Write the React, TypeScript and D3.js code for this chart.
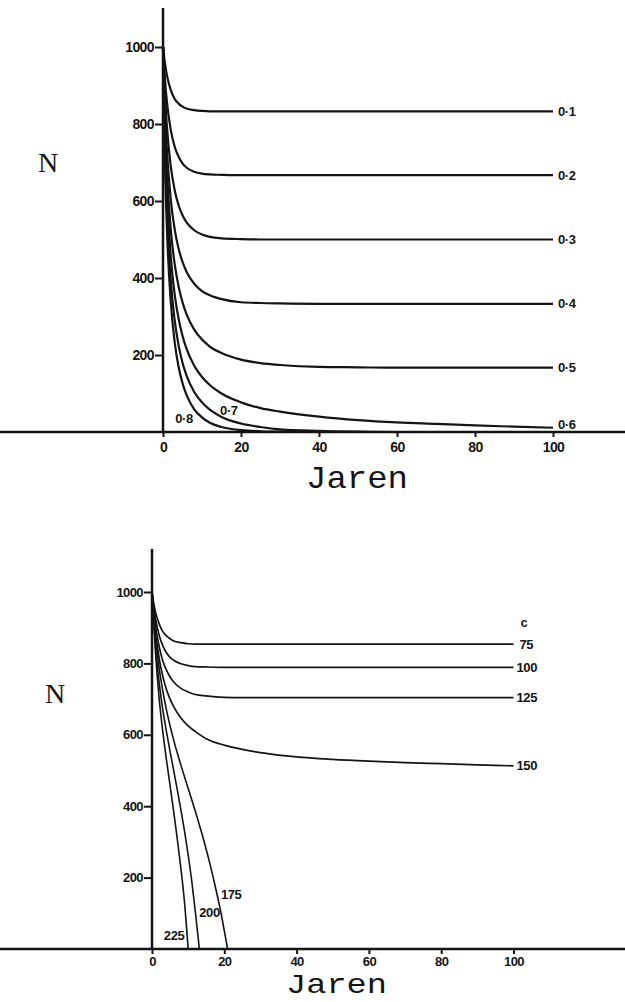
import { useEffect, useRef } from 'react'
import * as d3 from 'd3'

// time grid (Jaren) shared by the smooth curves
const tGrid = [0, 0.5, 1, 2, 3, 4, 5, 6, 8, 10, 12, 15, 20, 25, 30, 40, 50, 60, 70, 80, 90, 100]

// top chart: N per year for harvest fractions 0.1 .. 0.8
const h01 = [1000, 958, 927, 888, 865, 853, 845, 840, 836, 834, 833, 833, 833, 833, 833, 833, 833, 833, 833, 833, 833, 833]
const h02 = [1000, 917, 858, 784, 741, 715, 698, 687, 676, 671, 669, 668, 667, 667, 667, 667, 667, 667, 667, 667, 667, 667]
const h03 = [1000, 878, 794, 689, 628, 589, 563, 545, 524, 513, 507, 503, 501, 500, 500, 500, 500, 500, 500, 500, 500, 500]
const h04 = [1000, 840, 734, 603, 526, 476, 442, 417, 385, 366, 355, 345, 337, 335, 334, 333, 333, 333, 333, 333, 333, 333]
const h05 = [1000, 804, 678, 525, 436, 378, 337, 307, 266, 240, 222, 205, 188, 179, 174, 169, 168, 167, 167, 167, 167, 167]
const h06 = [1000, 769, 625, 455, 357, 294, 250, 217, 172, 143, 122, 100, 77, 62, 53, 40, 31, 25, 21, 17, 14, 11]
const h07 = [1000, 736, 576, 392, 290, 225, 180, 148, 104, 77, 58, 39, 22, 13, 7, 3, 1, 0, 0, 0, 0, 0]
const h08 = [1000, 704, 530, 337, 233, 169, 127, 97, 59, 38, 24, 13, 5, 2, 1, 0, 0, 0, 0, 0, 0, 0]
const topSeries = [h01, h02, h03, h04, h05, h06, h07, h08]
const topLabels = ['0·1', '0·2', '0·3', '0·4', '0·5', '0·6']

// bottom chart: constant catch c
const c75 = [1000, 967, 943, 910, 889, 877, 869, 863, 858, 855, 854, 854, 854, 854, 854, 854, 854, 854, 854, 854, 854, 854]
const c100 = [1000, 957, 924, 878, 849, 830, 817, 809, 799, 794, 791, 790, 789, 789, 789, 789, 789, 789, 789, 789, 789, 789]
const c125 = [1000, 946, 904, 846, 807, 781, 762, 748, 730, 720, 713, 709, 705, 704, 704, 704, 704, 704, 704, 704, 704, 704]
const c150 = [1000, 935, 885, 813, 763, 727, 700, 679, 647, 625, 609, 589, 571, 559, 550, 538, 531, 526, 522, 519, 516, 513]
const bottomSeries = [c75, c100, c125, c150]
const bottomLabels = ['75', '100', '125', '150']

// collapsing stocks, [year, N]
const c175: [number, number][] = [[0, 1000], [1, 868], [2, 785], [3, 722], [4, 670], [6, 585], [8, 515], [10, 450], [12, 385], [14, 316], [16, 240], [17.5, 175], [19, 105], [20.2, 40], [20.9, 0]]
const c200: [number, number][] = [[0, 1000], [1, 845], [2, 745], [3, 670], [4, 609], [5, 553], [6, 500], [7, 446], [8, 390], [9, 330], [10, 264], [11, 190], [12, 103], [13.1, 0]]
const c225: [number, number][] = [[0, 1000], [1, 825], [2, 700], [3, 608], [4, 530], [5, 458], [6, 385], [7, 308], [8, 225], [9, 130], [10, 0]]

const xTicks = [0, 20, 40, 60, 80, 100]
const yTicks = [200, 400, 600, 800, 1000]

const ink = '#141414'
const lblFont = '"Liberation Sans", Arial, sans-serif'

export default function App() {
    const svgRef = useRef<SVGSVGElement>(null)

    useEffect(() => {
        if (!svgRef.current) return
        const svg = d3.select(svgRef.current)
        svg.selectAll('*').remove()

        const drawPanel = (opts: { x0: number; x100: number; y0: number; y1000: number; axisTop: number; tickFont: number; xPad: number }) => {
            const x = d3.scaleLinear().domain([0, 100]).range([opts.x0, opts.x100])
            const y = d3.scaleLinear().domain([0, 1000]).range([opts.y0, opts.y1000])
            const g = svg.append('g')

            // axis lines
            g.append('line')
                .attr('x1', 0).attr('x2', 625)
                .attr('y1', y(0)).attr('y2', y(0))
                .attr('stroke', ink).attr('stroke-width', 2.5)
            g.append('line')
                .attr('x1', x(0)).attr('x2', x(0))
                .attr('y1', y(0)).attr('y2', opts.axisTop)
                .attr('stroke', ink).attr('stroke-width', 2.5)

            const xAxis = g.append('g')
                .attr('transform', `translate(0,${y(0)})`)
                .call(d3.axisBottom(x).tickValues(xTicks).tickSize(5).tickPadding(opts.xPad).tickFormat(d3.format('d')))
            const yAxis = g.append('g')
                .attr('transform', `translate(${x(0)},0)`)
                .call(d3.axisLeft(y).tickValues(yTicks).tickSize(8).tickPadding(1).tickFormat(d3.format('d')))
            for (const ax of [xAxis, yAxis]) {
                ax.select('.domain').remove()
                ax.selectAll('line').attr('stroke', ink).attr('stroke-width', 2)
                ax.selectAll('text')
                    .attr('font-family', lblFont)
                    .attr('font-weight', 'bold')
                    .attr('font-size', opts.tickFont)
                    .attr('letter-spacing', '-0.6px')
                    .attr('fill', ink)
            }
            return { g, x, y }
        }

        const addLabel = (g: d3.Selection<SVGGElement, unknown, null, undefined>, lbl: string, px: number, py: number, anchor: string) => {
            g.append('text')
                .attr('x', px).attr('y', py)
                .attr('dy', '0.35em').attr('text-anchor', anchor)
                .attr('font-family', lblFont).attr('font-weight', 'bold')
                .attr('font-size', 13).attr('letter-spacing', '-0.4px')
                .attr('fill', ink)
                .text(lbl)
        }

        // ---------- top chart ----------
        const top = drawPanel({ x0: 163, x100: 553, y0: 432, y1000: 47, axisTop: 8, tickFont: 14, xPad: 5 })
        const lineTop = d3.line<number>()
            .x((_, i) => top.x(tGrid[i]))
            .y(d => top.y(d))
            .curve(d3.curveMonotoneX)
        topSeries.forEach(s => {
            top.g.append('path')
                .attr('d', lineTop(s))
                .attr('fill', 'none')
                .attr('stroke', ink)
                .attr('stroke-width', 2.2)
        })
        topLabels.forEach((lbl, i) => {
            const s = topSeries[i]
            addLabel(top.g, lbl, top.x(100) + 5, top.y(s[s.length - 1]) + (i === 5 ? -3 : 0), 'start')
        })
        const inlineTop: [string, number, number][] = [['0·8', 5.4, 34], ['0·7', 16.9, 55]]
        inlineTop.forEach(([lbl, t, n]) => addLabel(top.g, lbl, top.x(t), top.y(n), 'middle'))

        svg.append('text')
            .attr('x', 38).attr('y', 172)
            .attr('font-family', '"Liberation Serif", "Times New Roman", serif')
            .attr('font-size', 28).attr('fill', ink)
            .text('N')
        svg.append('text')
            .attr('x', 306).attr('y', 488)
            .attr('font-family', '"Liberation Mono", "Courier New", monospace')
            .attr('font-size', 32).attr('fill', ink)
            .attr('textLength', 102).attr('lengthAdjust', 'spacingAndGlyphs')
            .text('Jaren')

        // ---------- bottom chart ----------
        const bot = drawPanel({ x0: 152, x100: 513.5, y0: 949, y1000: 592, axisTop: 549, tickFont: 13, xPad: 3 })
        const lineBot = d3.line<number>()
            .x((_, i) => bot.x(tGrid[i]))
            .y(d => bot.y(d))
            .curve(d3.curveMonotoneX)
        bottomSeries.forEach(s => {
            bot.g.append('path')
                .attr('d', lineBot(s))
                .attr('fill', 'none')
                .attr('stroke', ink)
                .attr('stroke-width', 1.7)
        })
        const linePairs = d3.line<[number, number]>()
            .x(d => bot.x(d[0]))
            .y(d => bot.y(d[1]))
            .curve(d3.curveMonotoneX)
        ;[c175, c200, c225].forEach(s => {
            bot.g.append('path')
                .attr('d', linePairs(s))
                .attr('fill', 'none')
                .attr('stroke', ink)
                .attr('stroke-width', 1.6)
        })
        bottomLabels.forEach((lbl, i) => {
            const s = bottomSeries[i]
            addLabel(bot.g, lbl, bot.x(100) + (lbl.length === 2 ? 6 : 3), bot.y(s[s.length - 1]), 'start')
        })
        const inlineBot: [string, number, number][] = [['c', 102.9, 916], ['175', 21.9, 154], ['200', 15.9, 101], ['225', 6.1, 39]]
        inlineBot.forEach(([lbl, t, n]) => addLabel(bot.g, lbl, bot.x(t), bot.y(n), 'middle'))

        svg.append('text')
            .attr('x', 45).attr('y', 703)
            .attr('font-family', '"Liberation Serif", "Times New Roman", serif')
            .attr('font-size', 28).attr('fill', ink)
            .text('N')
        svg.append('text')
            .attr('x', 286).attr('y', 993)
            .attr('font-family', '"Liberation Mono", "Courier New", monospace')
            .attr('font-size', 28).attr('fill', ink)
            .attr('textLength', 101).attr('lengthAdjust', 'spacingAndGlyphs')
            .text('Jaren')
    }, [])

    return (
        <svg
            ref={svgRef}
            width={625}
            height={1002}
            style={{ position: 'absolute', left: 0, top: 0, background: '#fff' }}
        />
    )
}
